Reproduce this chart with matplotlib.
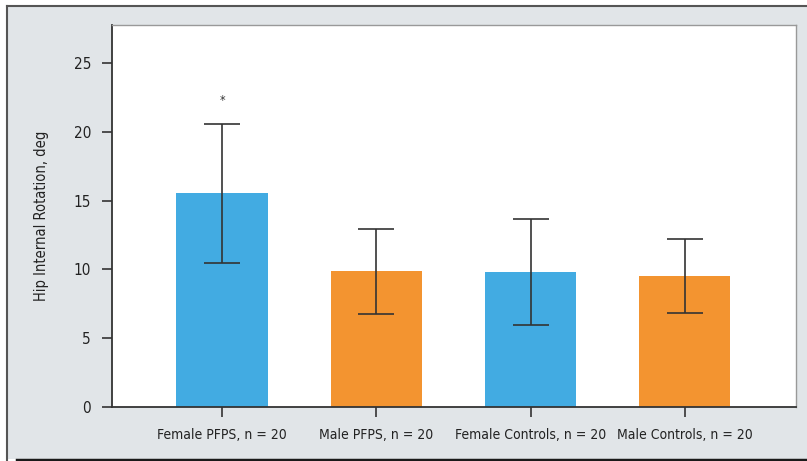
import matplotlib
matplotlib.use('Agg')
import matplotlib.pyplot as plt
from matplotlib.lines import Line2D
from matplotlib.patches import Rectangle
from matplotlib.ticker import MultipleLocator

plt.rcParams['font.family'] = ['DejaVu Sans']
plt.rcParams['font.stretch'] = 'condensed'

# 分组数据
groups = ['Female PFPS, n = 20', 'Male PFPS, n = 20',
          'Female Controls, n = 20', 'Male Controls, n = 20']
means = [15.55, 9.85, 9.8, 9.5]
sds = [5.05, 3.1, 3.85, 2.7]
colors = ['#42ABE2', '#F39430', '#42ABE2', '#F39430']
significant = [True, False, False, False]

W, H = 807, 461
fig = plt.figure(figsize=(W / 100, H / 100), dpi=100)
fig.patch.set_facecolor('white')

# 灰色底框及边线
fig.add_artist(Rectangle((7 / W, 1 - 459 / H), 1, (459 - 6) / H,
                         transform=fig.transFigure, facecolor='#E1E5E8',
                         edgecolor='none', zorder=0))
fig.add_artist(Line2D([7 / W, 1], [1 - 6 / H, 1 - 6 / H], color='#555555', linewidth=1.5))
fig.add_artist(Line2D([7 / W, 7 / W], [0, 1 - 6 / H], color='#555555', linewidth=1.5))
fig.add_artist(Line2D([17 / W, 1], [1 - 459.5 / H, 1 - 459.5 / H], color='#1a1a1a', linewidth=2.5))

ax = fig.add_axes([112 / W, 1 - 407 / H, (796 - 112) / W, (407 - 25) / H])
ax.set_facecolor('white')

x = list(range(len(groups)))
ax.bar(x, means, width=0.59, color=colors, zorder=2)
ax.errorbar(x, means, yerr=sds, fmt='none', ecolor='#333333', elinewidth=1.2,
            capsize=13, capthick=1.2, zorder=3)
for xi, m, s, sig in zip(x, means, sds, significant):
    if sig:
        ax.text(xi, m + s + 1.2, '*', ha='center', va='bottom', fontsize=9, color='#333333')

ax.set_xlim(-0.713, 3.72)
ax.set_ylim(0, 27.76)
ax.yaxis.set_major_locator(MultipleLocator(5))
ax.set_xticks(x)
ax.set_xticklabels(groups)
ax.tick_params(axis='both', direction='out', length=7, width=1.2, color='#333333',
               labelcolor='#222222')
ax.tick_params(axis='x', pad=8, labelsize=10)
ax.tick_params(axis='y', pad=8, labelsize=11)
for side in ['left', 'bottom']:
    ax.spines[side].set_color('#333333')
    ax.spines[side].set_linewidth(1.3)
for side in ['top', 'right']:
    ax.spines[side].set_color('#999999')
    ax.spines[side].set_linewidth(1.0)
ax.set_ylabel('Hip Internal Rotation, deg', fontsize=10.5, color='#222222', labelpad=18)

fig.savefig('out.png', dpi=100)
